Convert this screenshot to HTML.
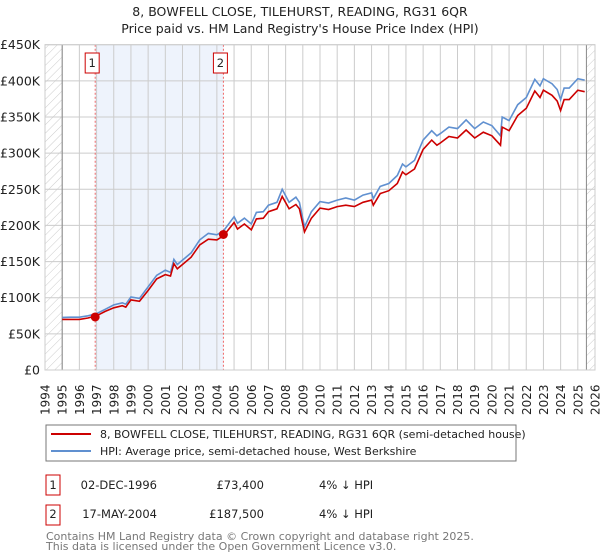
<!DOCTYPE html>
<html><head><meta charset="utf-8"><style>
body{margin:0;background:#fff;font-family:"Liberation Sans","DejaVu Sans",sans-serif;}
svg{display:block}
</style></head><body>
<svg id="c" width="600" height="560" viewBox="0 0 600 560" font-family="DejaVu Sans, Liberation Sans, sans-serif">
<defs><pattern id="hatch" width="6" height="6" patternUnits="userSpaceOnUse" patternTransform="rotate(45)"><line x1="0" y1="0" x2="0" y2="6" stroke="#cccccc" stroke-width="1"/></pattern></defs>
<text x="300" y="16" text-anchor="middle" font-size="12.5" fill="#222">8, BOWFELL CLOSE, TILEHURST, READING, RG31 6QR</text>
<text x="300" y="33" text-anchor="middle" font-size="12.5" fill="#222">Price paid vs. HM Land Registry's House Price Index (HPI)</text>
<g id="plot"></g>
<rect x="46" y="425" width="470" height="36" fill="#fff" stroke="#777"/>
<line x1="51" y1="434" x2="91" y2="434" stroke="#cc0000" stroke-width="2"/>
<text x="100" y="438" font-size="11" fill="#222">8, BOWFELL CLOSE, TILEHURST, READING, RG31 6QR (semi-detached house)</text>
<line x1="51" y1="451" x2="91" y2="451" stroke="#6090d0" stroke-width="2"/>
<text x="100" y="455" font-size="11" fill="#222">HPI: Average price, semi-detached house, West Berkshire</text>
<g font-size="11.5" fill="#222">
<rect x="46" y="475" width="14" height="20" fill="none" stroke="#cc0000"/>
<text x="53" y="489" text-anchor="middle">1</text>
<text x="157" y="489" text-anchor="end">02-DEC-1996</text>
<text x="264" y="489" text-anchor="end">£73,400</text>
<text x="319" y="489">4% ↓ HPI</text>
<rect x="46" y="505" width="14" height="20" fill="none" stroke="#cc0000"/>
<text x="53" y="518" text-anchor="middle">2</text>
<text x="157" y="518" text-anchor="end">17-MAY-2004</text>
<text x="264" y="518" text-anchor="end">£187,500</text>
<text x="319" y="518">4% ↓ HPI</text>
</g>
<text x="46" y="540" font-size="11" fill="#777">Contains HM Land Registry data © Crown copyright and database right 2025.</text>
<text x="46" y="550" font-size="11" fill="#777">This data is licensed under the Open Government Licence v3.0.</text>
</svg>
<script>
const hpiYears=[1995.0,1995.5,1996.0,1996.5,1997.0,1997.5,1998.0,1998.5,1998.7,1999.0,1999.5,2000.0,2000.5,2001.0,2001.3,2001.5,2001.7,2002.0,2002.5,2003.0,2003.5,2004.0,2004.4,2005.0,2005.2,2005.6,2006.0,2006.3,2006.7,2007.0,2007.5,2007.8,2008.2,2008.6,2008.8,2009.1,2009.5,2010.0,2010.5,2011.0,2011.5,2012.0,2012.5,2013.0,2013.1,2013.5,2014.0,2014.5,2014.8,2015.0,2015.5,2016.0,2016.5,2016.8,2017.0,2017.5,2018.0,2018.5,2019.0,2019.5,2020.0,2020.5,2020.6,2021.0,2021.5,2022.0,2022.5,2022.8,2023.0,2023.5,2023.8,2024.0,2024.2,2024.5,2025.0,2025.4];
const hpiValues=[72.8,73,73,75,78,84,90,93,91,101,99,115,131,138,135,153,146,152,162,180,189,187,193,212,203,210,202,218,219,228,232,250,232,239,232,198,219,233,231,235,238,235,242,245,237,254,258,269,285,281,290,318,331,324,327,336,334,346,334,343,338,324,350,345,367,377,402,393,403,396,388,374,390,390,403,401];
const priceValues=[70,70,70,72,75,81,86,89,87,97,95,110,126,132,130,147,140,146,156,173,181,180,186,204,195,202,194,209,210,219,223,240,223,229,223,191,210,224,222,226,228,226,232,235,228,244,248,258,274,270,278,305,318,311,314,323,321,332,321,329,324,311,336,331,352,362,386,377,387,380,372,359,374,374,387,385];
const saleYears=[1996.92,2004.38];
const salePrices=[73.4,187.5];
const saleLabels=["1","2"];
const yTicks=[0,50,100,150,200,250,300,350,400,450];
const yTickLabels=["£0","£50K","£100K","£150K","£200K","£250K","£300K","£350K","£400K","£450K"];
const xTicks=[];for(let y=1994;y<=2026;y++)xTicks.push(y);

const X0=45,X1=595,Y0=370,Y1=44.7;
const xs=v=>X0+(v-1994)/(2026-1994)*(X1-X0);
const ys=v=>Y0-(v/450)*(Y0-Y1);
const NS="http://www.w3.org/2000/svg";
const g=document.getElementById('plot');
function mk(t,a){const e=document.createElementNS(NS,t);for(const k in a)e.setAttribute(k,a[k]);g.appendChild(e);return e;}

let e=mk('rect',{x:xs(saleYears[0]),y:Y1,width:xs(saleYears[1])-xs(saleYears[0]),height:Y0-Y1,fill:'#eef3fc'});


e=mk('rect',{x:X0,y:Y1,width:xs(1995)-X0,height:Y0-Y1,fill:'url(#hatch)'});


e=mk('rect',{x:xs(2025.5),y:Y1,width:X1-xs(2025.5),height:Y0-Y1,fill:'url(#hatch)'});


xTicks.forEach(t=>{
  e=mk('line',{x1:xs(t),x2:xs(t),y1:Y1,y2:Y0,stroke:'#cccccc','stroke-width':1});
  
  
  e=mk('text',{x:0,y:0,transform:`translate(${xs(t)+4.5},${415}) rotate(-90)`,'font-size':'12',fill:'#222'});
  e.textContent=t;
  
  
});
yTicks.forEach((t,i)=>{
  e=mk('line',{x1:X0,x2:X1,y1:ys(t),y2:ys(t),stroke:'#cccccc','stroke-width':1});
  
  
  e=mk('text',{x:40,y:ys(t)+4.5,'text-anchor':'end','font-size':'12.5',fill:'#222'});
  e.textContent=yTickLabels[i];
  
  
});
e=mk('line',{x1:xs(1995),x2:xs(1995),y1:Y1,y2:Y0,stroke:'#888','stroke-width':1});


e=mk('line',{x1:xs(2025.5),x2:xs(2025.5),y1:Y1,y2:Y0,stroke:'#888','stroke-width':1});


saleYears.forEach((s,i)=>{
  e=mk('line',{x1:xs(s),x2:xs(s),y1:Y1,y2:Y0,stroke:'#ee6666','stroke-width':1,'stroke-dasharray':'2,2'});
  
  
  e=mk('rect',{x:xs(s)-10,y:53,width:14,height:20,fill:'#fff',stroke:'#cc0000'});
  
  
  e=mk('text',{x:xs(s)-3,y:67,'text-anchor':'middle','font-size':'11.5',fill:'#222'});
  e.textContent=saleLabels[i];
  
  
});
function path(vals){return hpiYears.map((y,i)=>(i?'L':'M')+xs(y).toFixed(1)+','+ys(vals[i]).toFixed(1)).join('');}
e=mk('path',{d:path(hpiValues),fill:'none',stroke:'#6090d0','stroke-width':1.6});


e=mk('path',{d:path(priceValues),fill:'none',stroke:'#cc0000','stroke-width':1.6});


saleYears.forEach((s,i)=>{
  e=mk('circle',{cx:xs(s),cy:ys(salePrices[i]),r:4.5,fill:'#cc0000'});
  
  
});
e=mk('rect',{x:X0,y:Y1,width:X1-X0,height:Y0-Y1,fill:'none',stroke:'#cccccc'});


</script>
</body></html>
